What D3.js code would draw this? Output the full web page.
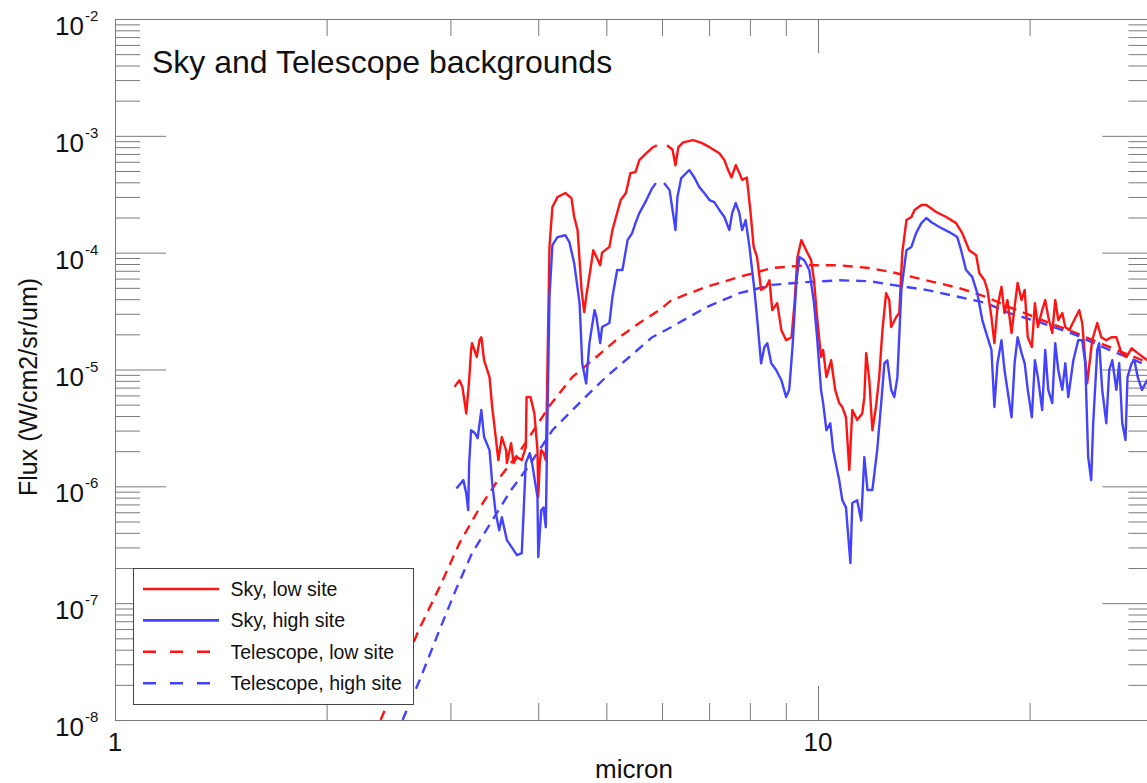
<!DOCTYPE html>
<html>
<head>
<meta charset="utf-8">
<script src="https://cdn.jsdelivr.net/npm/d3@7"></script>
<style>
body { margin: 0; background: #fff; }
text { font-family: "Liberation Sans", Arial, Helvetica, sans-serif; fill: #111; }
</style>
</head>
<body>
<svg id="chart" width="1147" height="783"></svg>
<script>
// ---- data (micron, W/cm2/sr/um) ----
var skyLowWave = [3.04,3.09,3.12,3.16,3.19,3.21,3.22,3.27,3.30,3.32,3.35,3.41,3.44,3.48,3.51,3.55,3.60,3.61,3.66,3.69,
  3.73,3.79,3.84,3.85,3.90,3.95,3.99,4.00,4.02,4.04,4.07,4.10,4.11,4.15,4.19,4.26,4.37,4.46,4.50,4.55,
  4.61,4.65,4.68,4.76,4.79,4.84,4.90,4.93,5.05,5.10,5.16,5.24,5.33,5.41,5.50,5.57,5.70,5.81,5.90,6.00,
  6.10,6.21,6.27,6.33,6.43,6.64,6.83,7.01,7.24,7.36,7.43,7.53,7.64,7.73,7.80,7.92,8.02,8.10,8.19,8.30,
  8.44,8.53,8.61,8.75,8.87,9.01,9.17,9.26,9.35,9.47,9.62,9.78,9.87,9.97,10.10,10.17,10.28,10.44,10.58,10.72,
  10.83,10.96,11.08,11.19,11.37,11.56,11.64,11.71,11.83,11.95,12.09,12.22,12.35,12.50,12.63,12.71,12.92,13.05,13.18,13.36,
  13.58,13.72,14.03,14.26,14.73,15.22,15.72,16.04,16.41,16.79,16.96,17.25,17.42,17.65,17.82,18.00,18.24,18.42,18.60,18.85,
  19.04,19.23,19.48,19.68,19.88,20.15,20.35,20.55,20.84,21.05,21.26,21.54,21.75,21.97,22.26,22.48,22.77,23.15,23.53,23.76,
  24.15,24.55,24.96,25.29,25.71,26.14,26.57,27.02,27.47,27.93,28.50,29.40,30.0];
var skyLowFlux = [7.1e-6,8.1e-6,7.1e-6,4.2e-6,8.1e-6,1.47e-5,1.68e-5,1.28e-5,1.78e-5,1.89e-5,1.20e-5,8.6e-6,4.77e-6,2.64e-6,1.68e-6,2.64e-6,2.04e-6,1.58e-6,2.34e-6,1.58e-6,
  1.78e-6,1.68e-6,2.17e-6,5.8e-6,5.8e-6,4.2e-6,2.04e-6,8.1e-7,1.58e-6,2.04e-6,1.92e-6,1.68e-6,3.47e-6,1.12e-4,2.46e-4,2.99e-4,3.24e-4,2.93e-4,2.02e-4,1.56e-4,
  4.78e-5,3.10e-5,4.17e-5,8.1e-5,1.05e-4,9.2e-5,7.8e-5,1.0e-4,1.12e-4,1.56e-4,2.02e-4,2.82e-4,3.24e-4,4.8e-4,4.9e-4,6.2e-4,7.1e-4,7.9e-4,8.3e-4,null,
  8.3e-4,7.6e-4,5.6e-4,8.0e-4,8.8e-4,9.2e-4,8.7e-4,8.0e-4,7.1e-4,6.2e-4,5.3e-4,4.4e-4,5.6e-4,4.8e-4,4.2e-4,4.4e-4,2.18e-4,1.12e-4,9.2e-5,4.8e-5,
  5.1e-5,5.8e-5,3.22e-5,3.7e-5,2.17e-5,1.78e-5,1.89e-5,3.7e-5,9.2e-5,1.28e-4,1.05e-4,8.6e-5,5.8e-5,2.81e-5,1.28e-5,1.47e-5,8.6e-6,1.20e-5,6.7e-6,5.16e-6,
  4.77e-6,3.9e-6,1.38e-6,4.5e-6,3.69e-6,4.2e-6,5.8e-6,1.38e-5,8.1e-6,3.02e-6,4.77e-6,8.6e-6,2.17e-5,4.5e-5,3.93e-5,2.31e-5,2.81e-5,3.04e-5,1.0e-4,1.90e-4,
  2.02e-4,2.32e-4,2.56e-4,2.56e-4,2.23e-4,2.02e-4,1.79e-4,1.47e-4,1.05e-4,9.5e-5,6.7e-5,5.8e-5,4.8e-5,2.81e-5,1.68e-5,3.42e-5,5.1e-5,3.04e-5,3.93e-5,2.05e-5,
  3.42e-5,5.5e-5,3.93e-5,4.8e-5,1.89e-5,1.56e-5,3.7e-5,2.31e-5,3.22e-5,3.93e-5,2.81e-5,2.05e-5,3.93e-5,2.65e-5,3.04e-5,2.31e-5,2.17e-5,2.65e-5,3.22e-5,2.50e-5,
  7.6e-6,1.78e-5,2.50e-5,1.89e-5,1.78e-5,1.89e-5,1.89e-5,1.38e-5,1.28e-5,1.52e-5,1.38e-5,1.20e-5,1.15e-5];

var skyHighWave = [3.06,3.13,3.16,3.18,3.19,3.21,3.25,3.28,3.32,3.35,3.41,3.44,3.48,3.52,3.55,3.61,3.67,3.73,3.79,3.84,
  3.89,3.92,3.99,4.00,4.04,4.07,4.10,4.12,4.15,4.19,4.26,4.37,4.43,4.50,4.58,4.62,4.68,4.73,4.81,4.84,
  4.90,4.93,5.05,5.10,5.18,5.27,5.36,5.44,5.50,5.57,5.70,5.81,5.88,5.96,6.04,6.15,6.21,6.27,6.31,6.39,
  6.56,6.67,6.78,6.89,7.01,7.12,7.24,7.36,7.48,7.55,7.64,7.73,7.80,7.89,7.99,8.12,8.19,8.30,8.39,8.47,
  8.58,8.72,8.87,9.01,9.10,9.20,9.32,9.41,9.56,9.72,9.87,9.97,10.10,10.17,10.28,10.41,10.51,10.72,10.83,10.96,
  11.12,11.19,11.37,11.52,11.64,11.76,11.95,12.14,12.30,12.43,12.55,12.71,12.84,12.97,13.14,13.36,13.58,13.79,14.03,14.26,
  14.50,14.88,15.37,15.78,15.98,16.24,16.57,16.85,17.13,17.42,17.65,17.82,18.00,18.24,18.42,18.60,18.85,19.04,19.23,19.48,
  19.68,19.88,20.15,20.35,20.55,20.84,21.05,21.26,21.54,21.75,21.97,22.26,22.48,22.70,23.08,23.45,23.76,24.00,24.23,24.47,
  24.63,24.96,25.12,25.37,25.71,25.96,26.22,26.57,26.82,27.09,27.38,27.56,27.93,28.19,28.50,28.90,29.40,30.0];
var skyHighFlux = [9.6e-7,1.13e-6,8.7e-7,6.25e-7,1.58e-6,3.02e-6,2.86e-6,2.58e-6,4.5e-6,2.64e-6,2.04e-6,1.07e-6,5.9e-7,4.2e-7,5.45e-7,3.46e-7,2.99e-7,2.58e-7,2.68e-7,1.58e-6,
  1.92e-6,1.58e-6,8.1e-7,2.48e-7,6.25e-7,6.6e-7,4.47e-7,3.02e-6,4.17e-5,1.16e-4,1.36e-4,1.41e-4,1.23e-4,8.1e-5,3.7e-5,1.13e-5,7.6e-6,1.68e-5,3.22e-5,2.81e-5,
  1.68e-5,2.31e-5,2.50e-5,4.17e-5,7.1e-5,7.1e-5,1.28e-4,1.47e-4,1.79e-4,2.18e-4,2.82e-4,3.57e-4,3.94e-4,null,3.94e-4,3.43e-4,2.32e-4,1.56e-4,2.99e-4,4.35e-4,
  5.1e-4,4.4e-4,3.64e-4,3.24e-4,2.82e-4,2.71e-4,2.32e-4,2.02e-4,1.56e-4,2.18e-4,2.66e-4,2.18e-4,1.56e-4,1.90e-4,1.12e-4,4.8e-5,2.81e-5,1.13e-5,1.56e-5,1.68e-5,
  1.13e-5,9.9e-6,8.1e-6,5.8e-6,6.7e-6,1.56e-5,5.8e-5,9.2e-5,8.6e-5,7.1e-5,3.7e-5,1.89e-5,6.7e-6,5.16e-6,3.02e-6,3.47e-6,2.04e-6,1.13e-6,7.6e-7,6.6e-7,
  2.2e-7,7.2e-7,7.6e-7,5.1e-7,1.78e-6,9.3e-7,9.3e-7,2.04e-6,5.16e-6,1.13e-5,1.20e-5,6.7e-6,5.8e-6,8.6e-6,4.8e-5,1.05e-4,1.12e-4,1.47e-4,1.79e-4,1.98e-4,
  1.82e-4,1.66e-4,1.50e-4,1.36e-4,1.05e-4,7.1e-5,6.2e-5,4.5e-5,2.65e-5,1.89e-5,1.47e-5,4.77e-6,1.13e-5,1.78e-5,9.9e-6,6.7e-6,3.9e-6,1.13e-5,1.89e-5,1.38e-5,
  1.13e-5,6.7e-6,3.9e-6,1.20e-5,8.6e-6,4.5e-6,1.47e-5,6.7e-6,5.16e-6,1.68e-5,9.9e-6,6.7e-6,1.13e-5,5.8e-6,1.20e-5,1.78e-5,1.78e-5,1.13e-5,1.78e-6,1.13e-6,
  3.47e-6,1.47e-5,1.68e-5,6.7e-6,3.47e-6,9.9e-6,1.20e-5,6.7e-6,1.13e-5,3.47e-6,2.49e-6,8.6e-6,1.13e-5,1.20e-5,8.6e-6,6.7e-6,8.1e-6,7.0e-6];

var telLowWave = [2.387,2.54,2.712,2.895,3.09,3.299,3.522,3.761,4.149,4.47,4.84,5.218,5.571,5.948,6.19,6.94,7.73,8.61,9.62,10.72,
  11.83,12.75,14.26,15.88,17.37,18.71,20.84,23.30,25.96,28.93,30.0];
var telLowFlux = [1.0e-8,2.42e-8,6.1e-8,1.37e-7,3.26e-7,6.5e-7,1.18e-6,1.96e-6,4.86e-6,8.6e-6,1.28e-5,1.89e-5,2.50e-5,3.22e-5,3.93e-5,5.1e-5,6.2e-5,7.4e-5,7.8e-5,7.8e-5,
  7.4e-5,6.8e-5,5.8e-5,4.98e-5,4.17e-5,3.42e-5,2.65e-5,2.05e-5,1.56e-5,1.20e-5,1.11e-5];

var telHighWave = [2.565,2.712,2.895,3.06,3.22,3.44,3.66,3.886,4.19,4.577,4.99,5.391,5.81,6.19,6.94,7.73,8.61,9.62,10.72,11.83,
  12.75,14.26,15.88,17.37,18.71,20.84,23.30,25.96,28.93,30.0];
var telHighFlux = [1.0e-8,2.19e-8,5.9e-8,1.34e-7,2.68e-7,5.1e-7,9.3e-7,1.52e-6,3.02e-6,5.16e-6,8.6e-6,1.28e-5,1.89e-5,2.31e-5,3.42e-5,4.5e-5,5.3e-5,5.6e-5,5.8e-5,5.7e-5,
  5.3e-5,4.8e-5,4.17e-5,3.7e-5,3.04e-5,2.50e-5,1.97e-5,1.47e-5,1.13e-5,1.05e-5];

var xMajor = [1, 10];
var xMinor = [2, 3, 4, 5, 6, 7, 8, 9, 20, 30];
var yExponents = [-8, -7, -6, -5, -4, -3, -2];
var legendLabels = ["Sky, low site", "Sky, high site", "Telescope, low site", "Telescope, high site"];

// ---- layout ----
var plotLeft = 115, plotRight = 1153.4, plotTop = 19, plotBottom = 720;
var red = "#ff1414", blue = "#4343ff";

var svg = d3.select("#chart");

var x = d3.scaleLog().domain([1, 30]).range([plotLeft, plotRight]);
var y = d3.scaleLog().domain([1e-8, 1e-2]).range([plotBottom, plotTop]);

var yMajor = yExponents.map(function(e) { return Math.pow(10, e); });
var yMinor = [];
yExponents.slice(0, -1).forEach(function(e) {
  for (var m = 2; m <= 9; m++) yMinor.push(m * Math.pow(10, e));
});

function zip(w, f) {
  return w.map(function(d, i) { return {x: d, y: f[i]}; });
}

// ---- axes ----
function styleAxis(g) {
  g.selectAll("path, line").attr("stroke", "#7a7a7a").attr("stroke-width", 1);
  g.selectAll("text").remove();
}

svg.append("g").attr("transform", "translate(0," + plotBottom + ")")
  .call(d3.axisBottom(x).tickValues(xMinor).tickSize(-17).tickSizeOuter(0)).call(styleAxis);
svg.append("g").attr("transform", "translate(0," + plotBottom + ")")
  .call(d3.axisBottom(x).tickValues(xMajor).tickSize(-34).tickSizeOuter(0)).call(styleAxis);
svg.append("g").attr("transform", "translate(0," + plotTop + ")")
  .call(d3.axisTop(x).tickValues(xMinor).tickSize(-17).tickSizeOuter(0)).call(styleAxis);
svg.append("g").attr("transform", "translate(0," + plotTop + ")")
  .call(d3.axisTop(x).tickValues(xMajor).tickSize(-34).tickSizeOuter(0)).call(styleAxis);

svg.append("g").attr("transform", "translate(" + plotLeft + ",0)")
  .call(d3.axisLeft(y).tickValues(yMinor).tickSize(-25).tickSizeOuter(0)).call(styleAxis);
svg.append("g").attr("transform", "translate(" + plotLeft + ",0)")
  .call(d3.axisLeft(y).tickValues(yMajor).tickSize(-51).tickSizeOuter(0)).call(styleAxis);
svg.append("g").attr("transform", "translate(" + plotRight + ",0)")
  .call(d3.axisRight(y).tickValues(yMinor).tickSize(-25).tickSizeOuter(0)).call(styleAxis);
svg.append("g").attr("transform", "translate(" + plotRight + ",0)")
  .call(d3.axisRight(y).tickValues(yMajor).tickSize(-51).tickSizeOuter(0)).call(styleAxis);

// tick labels
svg.selectAll("text.xlab").data(xMajor).enter().append("text")
  .attr("class", "xlab")
  .attr("x", function(d) { return x(d); })
  .attr("y", plotBottom + 31)
  .attr("text-anchor", "middle")
  .style("font-size", "26px")
  .text(function(d) { return d; });

var ylab = svg.selectAll("g.ylab").data(yExponents).enter().append("g")
  .attr("class", "ylab")
  .attr("transform", function(d) { return "translate(0," + y(Math.pow(10, d)) + ")"; });
ylab.append("text")
  .attr("x", 84).attr("y", 16)
  .attr("text-anchor", "end")
  .style("font-size", "26px")
  .text("10");
ylab.append("text")
  .attr("x", 85).attr("y", 2)
  .style("font-size", "15px")
  .text(function(d) { return d; });

// axis titles
svg.append("text")
  .attr("x", 634).attr("y", 778)
  .attr("text-anchor", "middle")
  .style("font-size", "26px")
  .text("micron");

svg.append("text")
  .attr("transform", "translate(37,387) rotate(-90)")
  .attr("text-anchor", "middle")
  .style("font-size", "25px")
  .text("Flux (W/cm2/sr/um)");

svg.append("text")
  .attr("x", 152).attr("y", 73)
  .style("font-size", "32px")
  .text("Sky and Telescope backgrounds");

// ---- curves ----
svg.append("clipPath").attr("id", "plotclip")
  .append("rect").attr("x", plotLeft).attr("y", plotTop)
  .attr("width", plotRight - plotLeft).attr("height", plotBottom - plotTop);

var line = d3.line()
  .defined(function(d) { return d.y != null; })
  .x(function(d) { return x(d.x); })
  .y(function(d) { return y(d.y); });

var series = [
  {data: zip(telLowWave, telLowFlux), color: red, dash: "10,7"},
  {data: zip(telHighWave, telHighFlux), color: blue, dash: "10,7"},
  {data: zip(skyLowWave, skyLowFlux), color: red, dash: null},
  {data: zip(skyHighWave, skyHighFlux), color: blue, dash: null}
];

var plot = svg.append("g").attr("clip-path", "url(#plotclip)");
plot.selectAll("path.curve").data(series).enter().append("path")
  .attr("class", "curve")
  .attr("d", function(d) { return line(d.data); })
  .attr("fill", "none")
  .attr("stroke", function(d) { return d.color; })
  .attr("stroke-width", 2.4)
  .attr("stroke-linejoin", "round")
  .attr("stroke-dasharray", function(d) { return d.dash; });

// ---- legend ----
var leg = svg.append("g").attr("transform", "translate(133.5,568.5)");
leg.append("rect")
  .attr("width", 280).attr("height", 136)
  .attr("fill", "#fff").attr("stroke", "#444").attr("stroke-width", 1);

var legStyle = [
  {color: red, dash: null}, {color: blue, dash: null},
  {color: red, dash: "13,14"}, {color: blue, dash: "13,14"}
];
var items = leg.selectAll("g.item").data(legendLabels).enter().append("g")
  .attr("class", "item")
  .attr("transform", function(d, i) { return "translate(0," + (20.5 + i * 31.4) + ")"; });
items.append("line")
  .attr("x1", 9.5).attr("x2", 85.5)
  .attr("stroke", function(d, i) { return legStyle[i].color; })
  .attr("stroke-width", 2.6)
  .attr("stroke-dasharray", function(d, i) { return legStyle[i].dash; });
items.append("text")
  .attr("x", 97).attr("y", 7)
  .style("font-size", "19.5px")
  .text(function(d) { return d; });
</script>
</body>
</html>
